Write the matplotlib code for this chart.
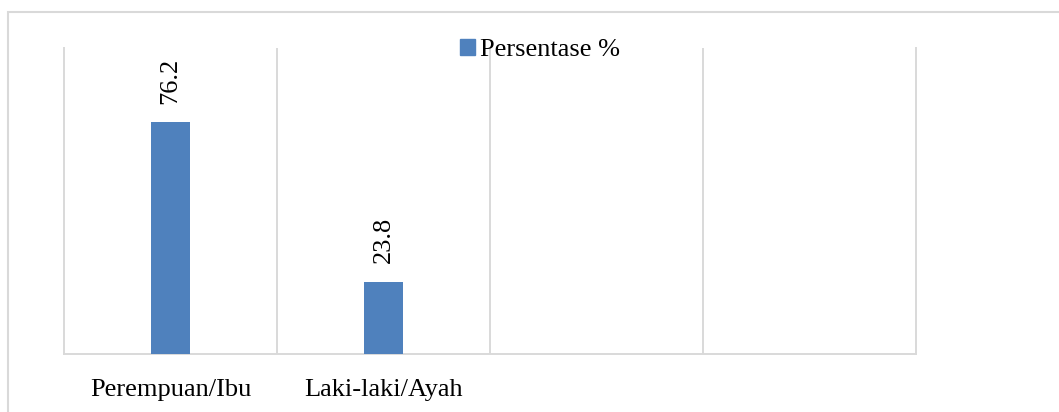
import numpy as np
import matplotlib
matplotlib.use("Agg")
import matplotlib.pyplot as plt
from matplotlib.patches import Patch, Rectangle

plt.rcParams["font.family"] = ["Liberation Serif", "DejaVu Serif"]

# four category slots on the axis, only the first two carry data
categories = ["Perempuan/Ibu", "Laki-laki/Ayah", "", ""]
values = [76.2, 23.8, np.nan, np.nan]
series_name = "Persentase %"

BAR = "#4F81BD"
GRID = "#d9d9d9"

W, H = 1059, 412
fig = plt.figure(figsize=(W / 100, H / 100), dpi=100)
ax = fig.add_axes([64 / W, (H - 354) / H, (916 - 64) / W, (354 - 48) / H])

x = np.arange(len(categories))
ax.bar(x, values, width=0.183, color=BAR, zorder=3)

for xi, v in zip(x, values):
    if np.isnan(v):
        continue
    ax.annotate(f"{v:.1f}", (xi, v), xytext=(0, 13), textcoords="offset points",
                rotation=90, ha="center", va="bottom", fontsize=19)

ax.set_xlim(-0.5, len(categories) - 0.5)
ax.set_ylim(0, 100.5)
ax.set_xticks(x)
ax.set_xticklabels(categories, fontsize=19)
ax.tick_params(axis="x", length=0, pad=18)
ax.set_yticks([])

# category separators
ax.set_xticks(np.arange(0.5, len(categories) - 0.5), minor=True)
ax.tick_params(axis="x", which="minor", length=0)
ax.grid(which="minor", axis="x", color=GRID, lw=1.4, zorder=0)

ax.spines["top"].set_visible(False)
for side in ("left", "right", "bottom"):
    ax.spines[side].set_color(GRID)
    ax.spines[side].set_linewidth(1.4)

fig.legend(handles=[Patch(color=BAR, label=series_name)], loc="center left",
           bbox_to_anchor=(460 / W, 1 - 50 / H), frameon=False, fontsize=19,
           handlelength=0.55, handleheight=0.55, handletextpad=0.2, borderpad=0,
           borderaxespad=0)

# chart area outline
fig.patches.append(Rectangle((8 / W, -0.1), 1.1, 1.1 - 12 / H, fill=False,
                             edgecolor=GRID, lw=1.5, transform=fig.transFigure))

fig.savefig("out.png", dpi=100, facecolor="white")
